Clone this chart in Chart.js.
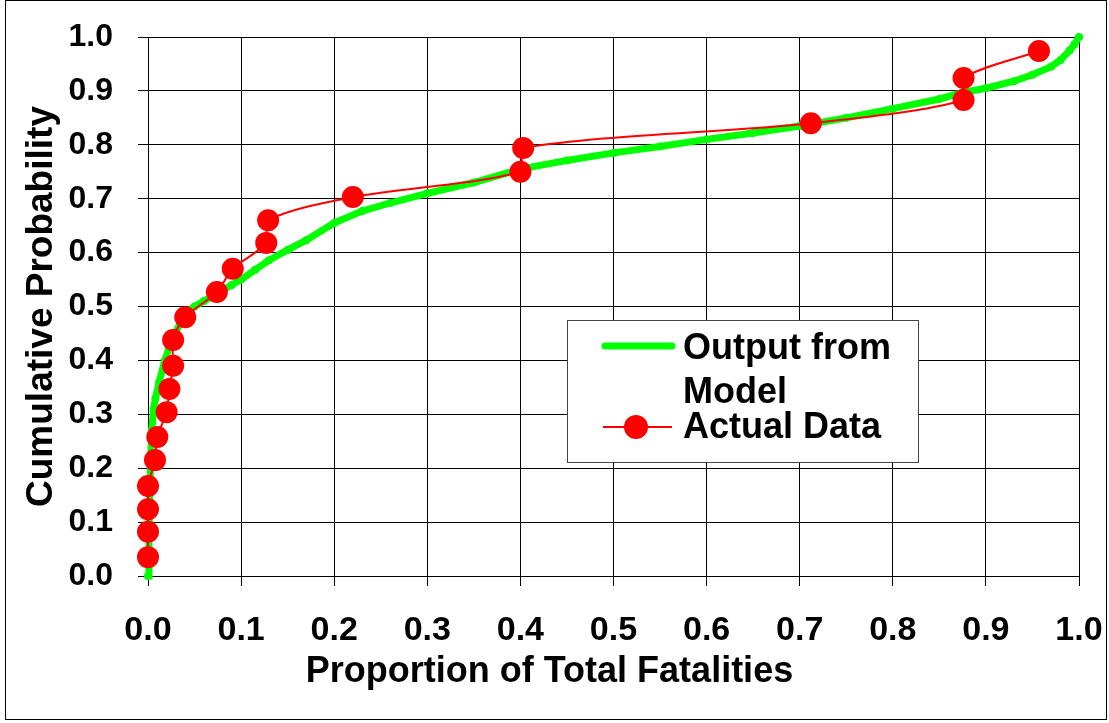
<!DOCTYPE html>
<html>
<head>
<meta charset="utf-8">
<script src="https://cdn.jsdelivr.net/npm/chart.js@4"></script>
<style>
  html, body { margin: 0; padding: 0; background: #fff; }
</style>
</head>
<body>
<canvas id="cdfChart" width="1109" height="723"></canvas>
<script>
// tick labels
const xTickLabels = ['0.0', '0.1', '0.2', '0.3', '0.4', '0.5', '0.6', '0.7', '0.8', '0.9', '1.0']
const yTickLabels = ['0.0', '0.1', '0.2', '0.3', '0.4', '0.5', '0.6', '0.7', '0.8', '0.9', '1.0']

// Output from Model
const modelX = [0, 0.001, 0.002, 0.003, 0.004, 0.006, 0.008, 0.012, 0.018, 0.023, 0.029, 0.035,
	0.042, 0.05, 0.06, 0.07, 0.08, 0.09, 0.1, 0.115, 0.13, 0.15, 0.17, 0.2, 0.23, 0.26, 0.3,
	0.35, 0.4, 0.45, 0.5, 0.55, 0.6, 0.65, 0.7, 0.75, 0.8, 0.85, 0.875, 0.9, 0.93, 0.95,
	0.97, 0.98, 0.99, 0.995, 1.0]
const modelY = [0.0, 0.08, 0.16, 0.22, 0.27, 0.31, 0.33, 0.36, 0.40, 0.425, 0.45, 0.47,
	0.49, 0.50, 0.51, 0.52, 0.53, 0.54, 0.55, 0.568, 0.586, 0.605, 0.623, 0.655, 0.677, 0.692, 0.71,
	0.73, 0.755, 0.771, 0.785, 0.797, 0.81, 0.822, 0.835, 0.85, 0.867, 0.885, 0.897, 0.905, 0.918, 0.93,
	0.945, 0.957, 0.975, 0.986, 1.0]

// Actual Data (red markers)
const actualX = [0, 0, 0, 0, 0.0075, 0.01, 0.02, 0.023, 0.027, 0.027, 0.04, 0.074, 0.091,
	0.127, 0.129, 0.22, 0.40, 0.403, 0.712, 0.876, 0.876, 0.957]
const actualY = [0.035, 0.082, 0.124, 0.167, 0.215, 0.258, 0.304, 0.347, 0.39, 0.438, 0.48, 0.527, 0.57,
	0.618, 0.66, 0.703, 0.75, 0.794, 0.84, 0.883, 0.924, 0.974]

const FONT = '"Liberation Sans", Arial, sans-serif'
const TITLE_SIZE = 36
const TITLE_PAD_BOTTOM = 29

Chart.defaults.font.family = FONT
Chart.defaults.color = '#000'

function toPoints(xs, ys) {
	return xs.map((x, i) => ({ x, y: ys[i] }))
}

/**
 * white page and thin outer frame
 */
const framePlugin = {
	id: 'frame',
	beforeDraw(chart) {
		const ctx = chart.ctx
		ctx.save()
		ctx.fillStyle = '#fff'
		ctx.fillRect(0, 0, chart.width, chart.height)
		ctx.restore()
	},
	afterDraw(chart) {
		const ctx = chart.ctx
		ctx.save()
		ctx.strokeStyle = '#000'
		ctx.lineWidth = 1
		ctx.strokeRect(5.5, 0.5, 1101, 719)
		ctx.restore()
	}
}

/**
 * legend box sitting inside the plot area
 */
const boxLegendPlugin = {
	id: 'boxLegend',
	afterDraw(chart) {
		const ctx = chart.ctx
		const [actual, model] = chart.data.datasets
		ctx.save()
		ctx.fillStyle = '#fff'
		ctx.fillRect(567, 320, 351, 142)
		ctx.strokeStyle = '#444'
		ctx.lineWidth = 1
		ctx.strokeRect(567.5, 320.5, 351, 142)

		// model sample
		ctx.strokeStyle = model.borderColor
		ctx.lineWidth = 7
		ctx.lineCap = 'round'
		ctx.beginPath()
		ctx.moveTo(605, 346)
		ctx.lineTo(672, 346)
		ctx.stroke()

		// actual sample
		ctx.strokeStyle = actual.borderColor
		ctx.lineWidth = 2
		ctx.lineCap = 'butt'
		ctx.beginPath()
		ctx.moveTo(603, 427)
		ctx.lineTo(672, 427)
		ctx.stroke()
		ctx.fillStyle = actual.pointBackgroundColor
		ctx.beginPath()
		ctx.arc(636, 427, 12, 0, Math.PI * 2)
		ctx.fill()

		ctx.fillStyle = '#000'
		ctx.font = `bold ${TITLE_SIZE}px ${FONT}`
		ctx.textBaseline = 'alphabetic'
		ctx.textAlign = 'left'
		wrapText(ctx, model.label, 225).forEach((line, i) => {
			ctx.fillText(line, 683, 359 + i * 44)
		})
		ctx.fillText(actual.label, 683, 438)
		ctx.restore()
	}
}

function wrapText(ctx, text, maxWidth) {
	const lines = []
	let line = ''
	text.split(' ').forEach((word) => {
		const test = line ? line + ' ' + word : word
		if (line && ctx.measureText(test).width > maxWidth) {
			lines.push(line)
			line = word
		} else {
			line = test
		}
	})
	lines.push(line)
	return lines
}

const ctx = document.getElementById('cdfChart')

new Chart(ctx, {
	type: 'line',
	data: {
		datasets: [
			{
				label: 'Actual Data',
				data: toPoints(actualX, actualY),
				borderColor: '#ff0000',
				borderWidth: 2,
				pointRadius: 11,
				pointHoverRadius: 11,
				pointBackgroundColor: '#ff0000',
				pointBorderColor: '#ff0000',
				pointBorderWidth: 0,
				tension: 0.3,
				clip: false,
				order: 0
			},
			{
				label: 'Output from Model',
				data: toPoints(modelX, modelY),
				borderColor: '#00ff00',
				borderWidth: 7,
				pointRadius: 4,
				pointBackgroundColor: '#00ff00',
				pointBorderWidth: 0,
				tension: 0,
				clip: false,
				order: 1
			}
		]
	},
	options: {
		responsive: false,
		animation: false,
		devicePixelRatio: 1,
		layout: { padding: { left: 20, right: 30, top: 37, bottom: 0 } },
		plugins: {
			legend: { display: false },
			tooltip: { enabled: false },
			title: {
				display: true,
				position: 'bottom',
				text: 'Proportion of Total Fatalities',
				color: '#000',
				font: { size: TITLE_SIZE, weight: 'bold', lineHeight: 1.2 },
				padding: { top: 0, bottom: TITLE_PAD_BOTTOM }
			}
		},
		scales: {
			x: {
				type: 'linear',
				min: 0,
				max: 1,
				ticks: {
					stepSize: 0.1,
					autoSkip: false,
					maxRotation: 0,
					padding: 24,
					font: { size: 34, weight: 'bold' },
					color: '#000',
					callback: (value, index) => xTickLabels[index]
				},
				grid: { color: '#000', lineWidth: 1, tickLength: 10 },
				border: { color: '#000', width: 1 },
				afterFit(scale) {
					scale.height = 723 - 576 - (TITLE_SIZE * 1.2 + TITLE_PAD_BOTTOM)
					scale.paddingLeft = 0
					scale.paddingRight = 0
				}
			},
			y: {
				min: 0,
				max: 1,
				ticks: {
					stepSize: 0.1,
					autoSkip: false,
					padding: 25,
					font: { size: 32, weight: 'bold' },
					color: '#000',
					callback: (value, index) => yTickLabels[index]
				},
				grid: { color: '#000', lineWidth: 1, tickLength: 10 },
				border: { color: '#000', width: 1 },
				title: {
					display: true,
					text: 'Cumulative Probability',
					color: '#000',
					font: { size: 37, weight: 'bold', lineHeight: 1.2 },
					padding: { top: 0, bottom: 0 }
				},
				afterFit(scale) {
					scale.width = 148 - 20
					scale.paddingTop = 0
					scale.paddingBottom = 0
				}
			}
		}
	},
	plugins: [framePlugin, boxLegendPlugin]
})
</script>
</body>
</html>
